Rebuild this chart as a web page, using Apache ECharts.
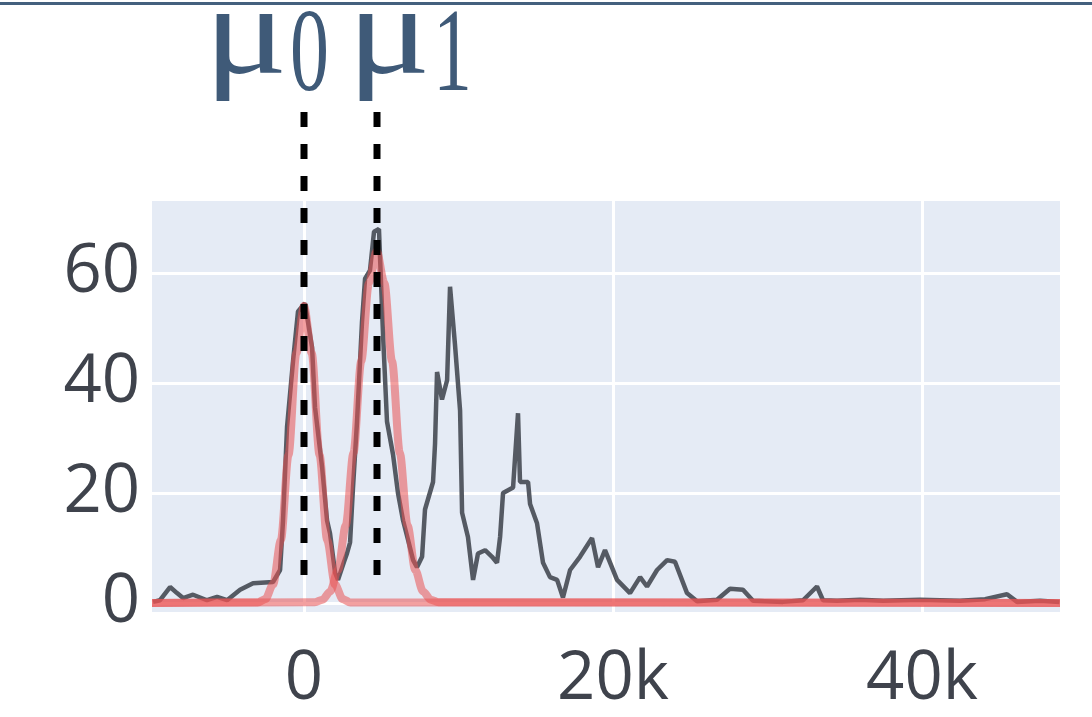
<!DOCTYPE html>
<html>
<head>
<meta charset="utf-8">
<script src="https://cdn.jsdelivr.net/npm/echarts@6/dist/echarts.min.js"></script>
<style>
  html, body { margin: 0; padding: 0; background: #ffffff; }
  #chart { width: 1092px; height: 717px; }
</style>
</head>
<body>
<div id="chart"></div>
<script>
// Histogram outline: bin positions (thousands) and counts
const countX = [-9.77, -9.32, -8.67, -8.22, -7.83, -7.18, -6.28, -5.63, -4.98, -4.14, -3.30, -2.01, -1.55, -1.36, -1.10, -0.71, -0.39, 0.06, 0.52, 0.71, 1.17, 1.49, 1.68, 2.01, 2.20, 2.59, 2.78, 2.98, 3.17, 3.43, 3.75, 3.95, 4.27, 4.53, 4.85, 5.11, 5.37, 5.76, 6.08, 6.41, 6.73, 7.06, 7.31, 7.64, 7.83, 8.35, 8.48, 8.61, 8.93, 9.26, 9.45, 9.77, 10.10, 10.23, 10.61, 10.94, 11.26, 11.72, 12.17, 12.49, 12.69, 12.88, 13.53, 13.85, 13.98, 14.50, 14.63, 15.08, 15.47, 15.92, 16.38, 16.76, 17.22, 17.86, 18.64, 19.03, 19.48, 20.26, 21.10, 21.75, 22.20, 22.85, 23.50, 24.01, 24.79, 25.44, 26.73, 27.57, 28.41, 29.06, 31.00, 32.30, 33.20, 33.59, 34.50, 35.99, 37.48, 39.87, 42.46, 44.08, 45.50, 46.15, 47.64, 48.90];
const counts = [0.2, 0.5, 2.9, 1.8, 0.9, 1.5, 0.5, 1.1, 0.5, 2.4, 3.6, 3.8, 6.0, 15, 32, 44, 53, 54.5, 46.5, 35.6, 24.7, 15, 12.7, 5.5, 4.2, 7.5, 9, 11, 21, 33, 51, 59, 60.5, 67.5, 68, 49, 33, 27, 20, 15, 11.5, 7.8, 6.5, 8.4, 17, 22, 29, 42, 37, 40.5, 57.5, 47, 35, 16.4, 12, 4.2, 9, 9.6, 8.4, 7.3, 12, 20, 21, 34.5, 22, 22, 18, 14.5, 7.3, 4.7, 4.2, 1, 6, 8.4, 11.8, 6.5, 9.6, 4.2, 1.8, 4.7, 3, 6, 7.8, 7.5, 1.8, 0.3, 0.6, 2.6, 2.4, 0.4, 0.2, 0.5, 3.0, 0.5, 0.4, 0.6, 0.4, 0.6, 0.4, 0.7, 1.6, 0.2, 0.4, 0.2];

// Fitted component around mu0
const fit0X = [-9.84, -3.0, -2.5, -2.0, -1.5, -1.0, -0.5, 0, 0.5, 1.0, 1.5, 2.0, 2.5, 3.0, 48.93];
const fit0Y = [0, 0.1, 0.7, 3.4, 11.4, 27.0, 45.4, 54, 45.4, 27.0, 11.4, 3.4, 0.7, 0.1, 0];

// Fitted component around mu1
const fit1X = [-9.84, 0.7, 1.2, 1.7, 2.2, 2.7, 3.2, 3.7, 4.2, 4.7, 5.2, 5.7, 6.2, 6.7, 7.2, 7.7, 8.2, 8.7, 48.93];
const fit1Y = [0, 0.15, 0.6, 2.1, 6.0, 14.1, 27.3, 43.9, 58.2, 64, 58.2, 43.9, 27.3, 14.1, 6.0, 2.1, 0.6, 0.15, 0];

// Component means (thousands) and their labels
const muValues = [0, 4.7];
const muSubscripts = ['0', '1'];

// Axis ticks
const xTicks = [0, 20, 40];
const yTicks = [0, 20, 40, 60];

const zip = (xs, ys) => xs.map((x, i) => [x * 1000, ys[i]]);

const chart = echarts.init(document.getElementById('chart'), null, { renderer: 'canvas' });

const tickFont = {
  fontFamily: '"Open Sans", sans-serif',
  fontSize: 67,
  color: '#3f434c'
};

chart.setOption({
  animation: false,
  backgroundColor: '#ffffff',
  grid: { left: 152, top: 201, width: 908, height: 411, backgroundColor: '#e5ebf5', show: true, borderWidth: 0 },
  xAxis: {
    type: 'value',
    min: -9840,
    max: 48930,
    axisLine: { show: false },
    axisTick: { show: false },
    splitLine: { show: false },
    axisLabel: Object.assign({
      customValues: xTicks.map(v => v * 1000),
      margin: 34,
      formatter: v => (v === 0 ? '0' : (v / 1000) + 'k')
    }, tickFont)
  },
  yAxis: {
    type: 'value',
    min: -1.64,
    max: 73.1,
    axisLine: { show: false },
    axisTick: { show: false },
    splitLine: { show: false },
    axisLabel: Object.assign({
      customValues: yTicks,
      margin: 12,
      formatter: v => String(v)
    }, tickFont)
  },
  series: [
    {
      // grid lines, kept beneath the data
      type: 'line',
      data: [],
      z: 1,
      silent: true,
      markLine: {
        z: 1,
        silent: true,
        symbol: 'none',
        animation: false,
        label: { show: false },
        lineStyle: { color: '#ffffff', width: 3, type: 'solid' },
        data: xTicks.map(v => ({ xAxis: v * 1000 })).concat(yTicks.map(v => ({ yAxis: v })))
      }
    },
    {
      name: 'counts',
      type: 'line',
      data: zip(countX, counts),
      z: 2,
      showSymbol: false,
      symbol: 'none',
      lineStyle: { color: '#555a63', width: 4.5 }
    },
    {
      name: 'fit0',
      type: 'line',
      data: zip(fit0X, fit0Y),
      z: 3,
      smooth: 0.3,
      smoothMonotone: 'x',
      symbol: 'none',
      lineStyle: { color: 'rgba(234, 82, 82, 0.55)', width: 8 }
    },
    {
      name: 'fit1',
      type: 'line',
      data: zip(fit1X, fit1Y),
      z: 3,
      smooth: 0.3,
      smoothMonotone: 'x',
      symbol: 'none',
      lineStyle: { color: 'rgba(234, 82, 82, 0.55)', width: 8 }
    }
  ]
});

// Mean markers: dashed verticals with μ labels above the plot
const serifFont = '"Liberation Serif", "Times New Roman", serif';
const graphics = [
  { type: 'rect', shape: { x: 0, y: 2, width: 1092, height: 3 }, style: { fill: '#44607e' }, silent: true }
];
const labelOffsets = [
  { mu: -100, sub: -14 },
  { mu: -30, sub: 56 }
];
muValues.forEach((m, i) => {
  const px = Math.round(chart.convertToPixel({ xAxisIndex: 0, yAxisIndex: 0 }, [m * 1000, 0])[0]);
  graphics.push({
    type: 'line',
    silent: true,
    z: 10,
    shape: { x1: px, y1: 112, x2: px, y2: 576 },
    style: { stroke: '#000000', lineWidth: 7, lineDash: [15, 17] }
  });
  graphics.push({
    type: 'text',
    silent: true,
    z: 10,
    x: px + labelOffsets[i].mu,
    y: 39,
    scaleX: 1.2,
    style: { text: 'μ', fontFamily: serifFont, fontSize: 130, fill: '#3f5a78', verticalAlign: 'middle', align: 'left' }
  });
  graphics.push({
    type: 'text',
    silent: true,
    z: 10,
    x: px + labelOffsets[i].sub,
    y: 59,
    scaleX: 0.66,
    style: { text: muSubscripts[i], fontFamily: serifFont, fontSize: 118, fill: '#3f5a78', verticalAlign: 'middle', align: 'left' }
  });
});
chart.setOption({ graphic: graphics });
</script>
</body>
</html>
